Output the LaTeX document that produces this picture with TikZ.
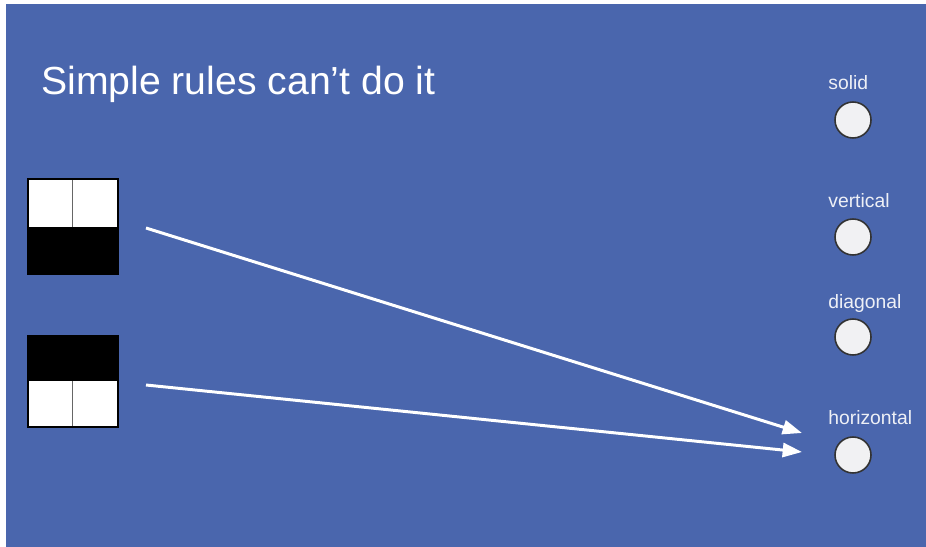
\documentclass[tikz,border=0pt]{standalone}
\usepackage{fontspec}
\setmainfont{Liberation Sans}
\usepackage{tikz}
\usetikzlibrary{arrows.meta,positioning}
\definecolor{slideblue}{HTML}{4A66AD}
\definecolor{dotgray}{HTML}{F1F1F3}
\definecolor{labelgray}{HTML}{EEF0F6}

\begin{document}
\begin{tikzpicture}[x=0.02cm,y=-0.02cm,>={Triangle[length=11pt,width=8pt]}]
  \useasboundingbox (0,0) rectangle (926,547);
  \fill[white] (0,0) rectangle (926,547);
  \fill[slideblue] (6,4) rectangle (926,547);
  \tikzset{unit/.style={circle,draw=black!80,line width=.9pt,fill=dotgray,minimum size=.72cm,inner sep=0pt},
           unitlabel/.style={anchor=base west,inner sep=0pt,text=labelgray,font=\fontsize{11}{13}\selectfont}}
  % title
  \node[anchor=base west,inner sep=0pt,white,font=\fontsize{22.3}{26}\selectfont] (title) at (41,95) {Simple rules can’t do it};
  % output units
  \node[unit] (solid) at (853,120) {};
  \node[unit] (vert) at (853,237) {};
  \node[unit] (diag) at (853,337) {};
  \node[unit] (horiz) at (853,455) {};
  \node[unitlabel] (solidlab) at (828,90) {solid};
  \node[unitlabel] (vertlab) at (828,208) {vertical};
  \node[unitlabel] (diaglab) at (828,308) {diagonal};
  \node[unitlabel] (horizlab) at (828,424) {horizontal};
  % the two input patterns
  \fill[white] (28,179) rectangle (118,227);
  \fill[black] (28,227) rectangle (118,274);
  \draw[black!60,line width=.5pt] (72,179) -- (72,227);
  \draw[black,line width=.8pt] (28,179) rectangle (118,274);
  \fill[black] (28,336) rectangle (118,381);
  \fill[white] (28,381) rectangle (118,427);
  \draw[black!60,line width=.5pt] (72,381) -- (72,427);
  \draw[black,line width=.8pt] (28,336) rectangle (118,427);
  % connectors
  \coordinate (topsrc) at (146,228);
  \coordinate (botsrc) at (146,385);
  \coordinate (toptip) at (802,433);
  \coordinate (bottip) at (802,452);
  \draw[->,white,line width=1.7pt] (topsrc) -- (toptip);
  \draw[->,white,line width=1.7pt] (botsrc) -- (bottip);
\end{tikzpicture}
\end{document}
